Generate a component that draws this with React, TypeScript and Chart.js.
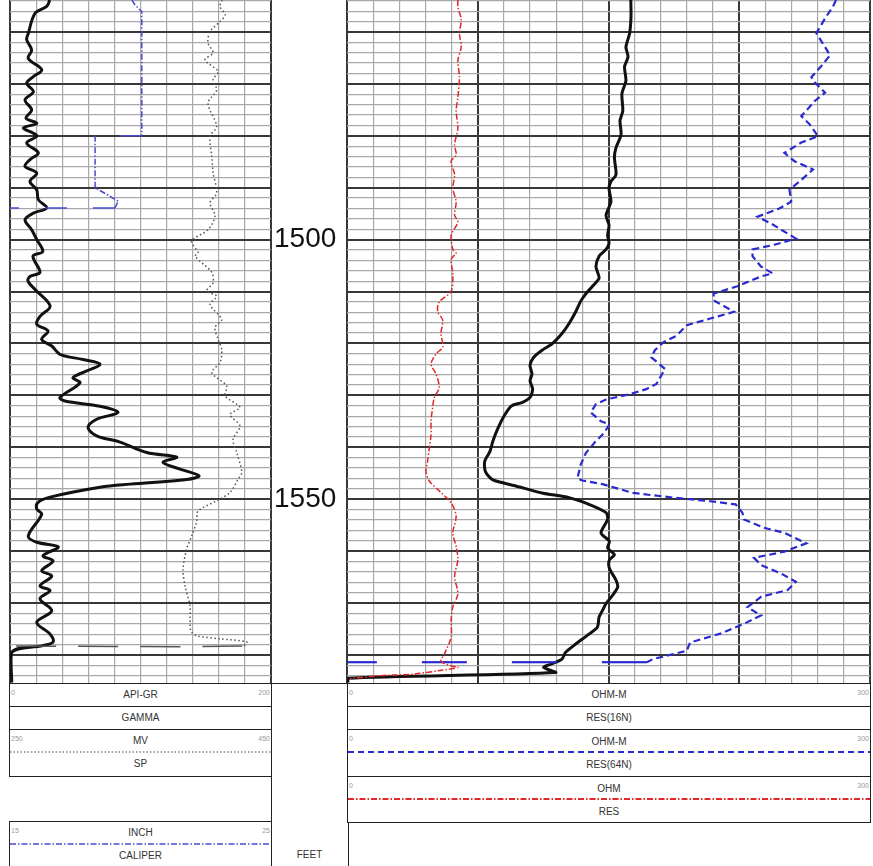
import React, { useEffect, useRef } from 'react';
import { Chart, registerables } from 'chart.js';

Chart.register(...registerables);

// ---------- depth / scale settings ----------
const DEPTH_TOP = 1453.85;
const DEPTH_BOTTOM = 1585.6;
const depthLabels = [1500, 1550];
const grRange = [0, 200];
const spRange = [250, 450];
const calRange = [15, 25];
const resRange = [0, 300];

// ---------- curves: [depth (ft), value] ----------
const GR: [number, number][] = [
  [1453.85, 30.5], [1455.1, 28.1], [1456.4, 19.2], [1460.3, 14.0], [1461.5, 12.8], [1463.5, 16.6],
  [1465.1, 14.0], [1467.3, 24.3], [1468.6, 17.9], [1469.9, 12.8], [1471.5, 17.9], [1473.1, 11.5],
  [1475.0, 16.6], [1476.6, 12.3], [1477.6, 20.5], [1478.5, 10.2], [1479.5, 17.9], [1480.1, 20.5],
  [1481.4, 12.8], [1483.3, 21.7], [1484.6, 15.3], [1485.9, 11.5], [1487.2, 20.5], [1488.8, 15.3],
  [1490.4, 20.5], [1492.3, 21.7], [1493.9, 28.1], [1494.9, 17.9], [1496.2, 11.5], [1498.1, 16.6],
  [1500.0, 20.5], [1502.3, 25.1], [1503.2, 17.6], [1506.3, 23.0], [1507.1, 15.3], [1508.0, 13.8],
  [1509.6, 19.2], [1512.8, 30.7], [1514.8, 23.0], [1516.3, 20.5], [1517.6, 29.1], [1519.2, 24.3],
  [1520.5, 32.0], [1522.1, 38.3], [1523.1, 55.9], [1524.0, 69.0], [1525.3, 58.8], [1526.6, 48.3],
  [1527.6, 53.6], [1530.4, 38.3], [1531.1, 42.1], [1532.1, 69.0], [1533.3, 82.8], [1534.6, 66.4],
  [1536.2, 59.8], [1537.8, 66.4], [1539.0, 84.3], [1541.0, 104.8], [1541.9, 127.7], [1542.9, 117.2],
  [1544.2, 130.3], [1545.5, 144.8], [1546.2, 135.4], [1547.1, 92.0], [1547.7, 69.0], [1549.6, 30.7],
  [1550.6, 21.5], [1551.9, 20.5], [1552.9, 24.3], [1557.1, 14.0], [1558.3, 20.5], [1559.2, 37.0],
  [1560.9, 25.3], [1561.9, 33.0], [1563.8, 24.3], [1564.8, 32.0], [1566.7, 23.0], [1567.6, 30.7],
  [1569.2, 23.0], [1571.5, 32.0], [1573.7, 20.5], [1576.0, 30.7], [1577.5, 33.0], [1578.2, 25.3],
  [1579.5, 1.3], [1585.3, 1.3],
];

const SP: [number, number][] = [
  [1453.85, 412.5], [1455.1, 410.9], [1456.7, 414.8], [1458.0, 410.9], [1459.9, 403.3], [1462.1, 401.7],
  [1464.0, 405.6], [1465.4, 399.4], [1467.6, 409.4], [1469.2, 405.6], [1471.2, 408.4], [1473.7, 401.7],
  [1478.2, 408.4], [1480.1, 403.3], [1484.0, 404.6], [1487.1, 405.6], [1491.0, 408.4], [1492.9, 403.3],
  [1495.5, 407.1], [1498.1, 401.7], [1500.3, 389.2], [1502.5, 394.1], [1503.2, 391.8], [1506.3, 404.6],
  [1508.3, 405.6], [1509.9, 400.7], [1510.9, 408.4], [1512.5, 403.3], [1515.4, 412.2], [1516.9, 407.1],
  [1519.2, 409.4], [1521.2, 412.2], [1523.7, 410.9], [1525.6, 404.6], [1528.2, 416.1], [1530.1, 414.8],
  [1532.3, 426.2], [1533.7, 418.6], [1535.9, 426.2], [1538.5, 420.9], [1541.0, 423.7], [1544.8, 427.6],
  [1546.2, 424.7], [1548.7, 418.6], [1550.3, 408.4], [1552.3, 394.1], [1554.2, 393.1], [1557.1, 389.2],
  [1559.6, 385.4], [1563.5, 382.6], [1566.7, 384.1], [1570.5, 387.9], [1575.3, 388.5], [1576.3, 393.1],
  [1576.9, 410.9], [1577.5, 431.4], [1578.3, 428.0], [1578.3, 250.0],
];

const CALIPER: [number, number][] = [
  [1453.85, 19.67], [1454.8, 19.79], [1456.1, 20.05], [1480.0, 20.05], [1480.0, 18.26],
  [1490.0, 18.26], [1492.6, 19.15], [1493.9, 19.02], [1493.9, 15.0],
];

const RES16N: [number, number][] = [
  [1453.85, 162.8], [1457.1, 162.9], [1460.3, 162.1], [1462.9, 160.0], [1464.8, 161.2], [1466.7, 159.2],
  [1469.4, 160.0], [1471.9, 157.7], [1475.2, 158.2], [1477.1, 156.6], [1479.8, 157.2], [1482.3, 154.3],
  [1484.2, 153.4], [1487.5, 154.3], [1488.8, 151.4], [1490.1, 150.3], [1492.7, 151.4], [1495.3, 148.6],
  [1497.2, 150.3], [1499.2, 149.5], [1500.7, 150.3], [1501.9, 148.6], [1503.2, 144.6], [1505.2, 142.8],
  [1507.4, 144.6], [1509.0, 140.8], [1510.4, 137.1], [1511.9, 134.0], [1513.9, 131.2], [1516.2, 127.3],
  [1518.1, 123.3], [1520.1, 117.6], [1521.3, 111.9], [1522.7, 107.0], [1524.2, 105.0], [1525.9, 106.1],
  [1527.2, 105.0], [1528.8, 106.5], [1530.4, 105.0], [1531.4, 100.3], [1532.0, 94.5], [1533.7, 90.6],
  [1536.3, 86.6], [1538.8, 83.7], [1540.8, 82.0], [1542.7, 79.0], [1544.7, 79.4], [1546.3, 83.7],
  [1547.4, 96.4], [1548.8, 111.9], [1549.7, 127.3], [1551.0, 138.8], [1552.6, 148.6], [1553.9, 149.5],
  [1556.5, 145.7], [1558.1, 150.5], [1559.4, 149.5], [1560.7, 153.4], [1561.7, 150.5], [1563.3, 150.5],
  [1565.6, 154.3], [1566.9, 155.3], [1568.5, 152.4], [1570.1, 148.6], [1571.4, 146.6], [1572.7, 144.6],
  [1574.6, 143.7], [1576.0, 138.8], [1577.9, 131.2], [1579.5, 125.4], [1580.8, 123.3], [1581.7, 117.6],
  [1582.4, 112.8], [1583.4, 119.6], [1584.5, 0.6], [1585.3, 0.6],
];

const RES64N: [number, number][] = [
  [1453.85, 280.5], [1455.1, 278.8], [1457.4, 274.2], [1459.7, 270.2], [1460.3, 269.3], [1462.9, 274.2],
  [1464.5, 277.1], [1466.5, 272.2], [1468.7, 266.4], [1469.7, 268.3], [1471.7, 274.2], [1473.3, 268.3],
  [1475.2, 263.4], [1476.2, 260.6], [1477.8, 265.4], [1480.1, 270.2], [1481.3, 260.6], [1483.3, 250.9],
  [1484.9, 256.7], [1486.5, 267.3], [1488.8, 259.6], [1490.4, 253.8], [1492.7, 254.8], [1494.0, 248.0],
  [1495.6, 235.5], [1496.9, 243.2], [1499.8, 257.5], [1501.0, 245.1], [1501.9, 232.6], [1503.2, 232.6],
  [1505.2, 237.5], [1506.5, 244.2], [1507.1, 237.5], [1509.0, 223.9], [1510.4, 210.3], [1511.7, 210.3],
  [1513.9, 222.0], [1515.2, 208.4], [1516.5, 194.9], [1518.5, 189.1], [1519.8, 181.4], [1521.3, 176.6],
  [1522.7, 174.6], [1524.9, 182.4], [1527.8, 177.5], [1528.8, 171.7], [1529.8, 162.1], [1530.8, 148.6],
  [1531.7, 142.8], [1533.3, 139.8], [1535.0, 145.7], [1535.6, 150.5], [1537.2, 147.6], [1538.8, 142.8],
  [1541.1, 137.0], [1543.4, 134.0], [1546.0, 132.2], [1546.4, 135.0], [1547.1, 146.6], [1548.8, 164.0],
  [1549.7, 187.2], [1550.4, 208.4], [1551.0, 222.9], [1552.6, 226.8], [1553.9, 227.7], [1555.5, 239.2],
  [1556.5, 250.9], [1558.5, 263.4], [1560.1, 250.9], [1561.3, 233.5], [1562.7, 237.5], [1564.3, 248.9],
  [1565.9, 257.5], [1567.5, 252.8], [1568.8, 237.5], [1570.8, 229.7], [1572.4, 237.5], [1574.0, 227.7],
  [1575.9, 214.2], [1577.6, 196.8], [1579.2, 194.9], [1580.8, 175.5], [1581.4, 172.0], [1581.4, 0.5],
];

const RES: [number, number][] = [
  [1453.85, 63.6], [1455.1, 63.6], [1457.7, 65.5], [1460.3, 64.5], [1462.9, 65.5], [1465.5, 63.6],
  [1468.7, 64.5], [1472.6, 63.6], [1475.2, 62.6], [1478.5, 63.6], [1481.7, 61.7], [1483.7, 62.6],
  [1484.9, 59.7], [1487.5, 61.7], [1490.1, 60.7], [1492.7, 62.6], [1495.3, 61.7], [1496.6, 63.6],
  [1499.2, 59.7], [1501.9, 60.7], [1502.6, 62.6], [1503.8, 59.7], [1506.5, 60.7], [1510.0, 59.7],
  [1512.0, 52.9], [1513.9, 52.0], [1515.5, 54.9], [1518.1, 53.9], [1520.7, 54.9], [1522.0, 51.1],
  [1524.0, 48.2], [1525.9, 51.1], [1528.5, 52.9], [1530.4, 50.1], [1532.4, 49.1], [1535.0, 48.2],
  [1537.6, 48.2], [1540.2, 47.2], [1542.7, 46.2], [1544.7, 45.3], [1546.5, 47.2], [1548.4, 52.9],
  [1550.7, 59.7], [1553.3, 62.6], [1556.5, 60.7], [1559.1, 62.6], [1561.7, 63.6], [1564.9, 61.7],
  [1568.2, 63.6], [1570.8, 60.7], [1573.3, 59.7], [1576.6, 59.7], [1579.8, 55.9], [1581.2, 53.9],
  [1582.1, 59.7], [1582.4, 63.6], [1583.0, 53.3], [1583.7, 37.9], [1584.0, 18.9], [1584.6, 1.7],
];

// ---------- styling ----------
const FONT = '"Liberation Sans", Arial, Helvetica, sans-serif';
const BLACK = '#111111';
const SP_COLOR = '#555555';
const CAL_COLOR = '#4a4ad0';
const BLUE = '#2a2ad0';
const RED = '#e02828';
const THIN_GRID = '#a8a8a8';
const THICK_GRID = '#383838';

const toXY = (arr: [number, number][]) => arr.map(([d, v]) => ({ x: v, y: d }));

const flatDash = (dash: number[]) => (ctx: any) =>
  Math.abs(ctx.p0.parsed.y - ctx.p1.parsed.y) < 0.001 ? dash : undefined;

const depthGridTicks = () => {
  const t: { value: number }[] = [];
  for (let d = 1454; d <= 1584; d += 2) t.push({ value: d });
  return t;
};

const noPadding = (s: any) => {
  s.paddingTop = 0;
  s.paddingBottom = 0;
  s.paddingLeft = 0;
  s.paddingRight = 0;
};

const depthAxis = (): any => ({
  type: 'linear',
  reverse: true,
  min: DEPTH_TOP,
  max: DEPTH_BOTTOM,
  position: 'left',
  afterBuildTicks: (s: any) => { s.ticks = depthGridTicks(); },
  afterFit: noPadding,
  ticks: { display: false },
  grid: {
    drawTicks: false,
    color: (c: any) => (c.tick && c.tick.value % 10 === 0 ? THICK_GRID : THIN_GRID),
    lineWidth: (c: any) => (c.tick && c.tick.value % 10 === 0 ? 2 : 1.2),
  },
  border: { display: false },
});

const baseOptions = (scales: any, padding: any): any => ({
  animation: false,
  responsive: false,
  maintainAspectRatio: false,
  events: [],
  layout: { padding, autoPadding: false },
  plugins: { legend: { display: false }, tooltip: { enabled: false }, title: { display: false } },
  scales,
});

function LeftTrack() {
  const ref = useRef<HTMLCanvasElement | null>(null);
  useEffect(() => {
    if (!ref.current) return;
    const chart = new Chart(ref.current, {
      type: 'scatter',
      data: {
        datasets: [
          {
            label: 'CALIPER', data: toXY(CALIPER), xAxisID: 'xcal', yAxisID: 'y', showLine: true,
            borderColor: CAL_COLOR, borderWidth: 1.5, borderDash: [6, 2, 1.5, 2], pointRadius: 0, tension: 0,
            segment: { borderDash: flatDash([22, 26]) },
          } as any,
          {
            label: 'SP', data: toXY(SP), xAxisID: 'xsp', yAxisID: 'y', showLine: true,
            borderColor: SP_COLOR, borderWidth: 1.5, borderDash: [1.5, 2.5], pointRadius: 0, tension: 0.3,
            segment: { borderDash: flatDash([40, 22]) },
          } as any,
          {
            label: 'GAMMA', data: toXY(GR), xAxisID: 'x', yAxisID: 'y', showLine: true,
            borderColor: BLACK, borderWidth: 3, pointRadius: 0, tension: 0.35,
          } as any,
        ],
      },
      options: baseOptions({
        x: {
          type: 'linear', min: grRange[0], max: grRange[1], position: 'bottom',
          ticks: { display: false, stepSize: 20 },
          afterFit: noPadding,
          grid: {
            drawTicks: false,
            color: (c: any) => (c.tick && (c.tick.value === grRange[0] || c.tick.value === grRange[1]) ? THICK_GRID : THIN_GRID),
            lineWidth: (c: any) => (c.tick && (c.tick.value === grRange[0] || c.tick.value === grRange[1]) ? 2 : 1.2),
          },
          border: { display: false },
        },
        xsp: { type: 'linear', min: spRange[0], max: spRange[1], display: false },
        xcal: { type: 'linear', min: calRange[0], max: calRange[1], display: false },
        y: depthAxis(),
        ydepth: {
          type: 'linear', reverse: true, min: DEPTH_TOP, max: DEPTH_BOTTOM, position: 'right',
          afterBuildTicks: (s: any) => { s.ticks = depthLabels.map((v) => ({ value: v })); },
          afterFit: (s: any) => { s.width = 77; noPadding(s); },
          ticks: {
            padding: 3, color: '#111', font: { size: 28, family: FONT },
            callback: (v: any) => String(v),
          },
          grid: { display: false, drawTicks: false },
          border: { display: false },
        },
      }, { left: 2, right: 0, top: 0, bottom: 6 }),
    });
    return () => chart.destroy();
  }, []);
  return (
    <canvas ref={ref} width={340} height={690}
      style={{ position: 'absolute', left: 8, top: 0, width: 340, height: 690 }} />
  );
}

function RightTrack() {
  const ref = useRef<HTMLCanvasElement | null>(null);
  useEffect(() => {
    if (!ref.current) return;
    const chart = new Chart(ref.current, {
      type: 'scatter',
      data: {
        datasets: [
          {
            label: 'RES', data: toXY(RES), xAxisID: 'x', yAxisID: 'y', showLine: true,
            borderColor: RED, borderWidth: 1.5, borderDash: [6, 2, 1.5, 2], pointRadius: 0, tension: 0.3,
          } as any,
          {
            label: 'RES(64N)', data: toXY(RES64N), xAxisID: 'x', yAxisID: 'y', showLine: true,
            borderColor: BLUE, borderWidth: 2.2, borderDash: [7, 4], pointRadius: 0, tension: 0,
            segment: { borderDash: flatDash([45, 45]) },
          } as any,
          {
            label: 'RES(16N)', data: toXY(RES16N), xAxisID: 'x', yAxisID: 'y', showLine: true,
            borderColor: BLACK, borderWidth: 3, pointRadius: 0, tension: 0.25,
          } as any,
        ],
      },
      options: baseOptions({
        x: {
          type: 'linear', min: resRange[0], max: resRange[1], position: 'bottom',
          ticks: { display: false, stepSize: 15 },
          afterFit: noPadding,
          grid: {
            drawTicks: false,
            color: (c: any) => (c.tick && c.tick.value % 75 === 0 ? THICK_GRID : THIN_GRID),
            lineWidth: (c: any) => (c.tick && c.tick.value % 75 === 0 ? 2 : 1.2),
          },
          border: { display: false },
        },
        y: depthAxis(),
      }, { left: 2, right: 3, top: 0, bottom: 6 }),
    });
    return () => chart.destroy();
  }, []);
  return (
    <canvas ref={ref} width={528} height={690}
      style={{ position: 'absolute', left: 345, top: 0, width: 528, height: 690 }} />
  );
}

const boxStyle = (left: number, top: number, width: number, height: number): React.CSSProperties => ({
  position: 'absolute', left, top, width, height, border: '1.5px solid #222',
  boxSizing: 'border-box', background: '#fff',
});

const Center = ({ top, children }: { top: number; children: React.ReactNode }) => (
  <div style={{ position: 'absolute', left: 0, right: 0, top, textAlign: 'center', fontSize: 10, color: '#333', lineHeight: '12px' }}>
    {children}
  </div>
);

const Small = ({ top, side, children }: { top: number; side: 'left' | 'right'; children: React.ReactNode }) => (
  <div style={{ position: 'absolute', top, [side]: 1, fontSize: 7, color: '#999', lineHeight: '9px' } as any}>
    {children}
  </div>
);

const LegendLine = ({ top, color, dash, width }: { top: number; color: string; dash: string; width: number }) => (
  <svg style={{ position: 'absolute', left: 0, top: top - 2 }} width="100%" height={4}>
    <line x1={0} y1={2} x2="100%" y2={2} stroke={color} strokeWidth={width} strokeDasharray={dash} />
  </svg>
);

export default function App() {
  return (
    <div style={{ position: 'absolute', left: 0, top: 0, width: 873, height: 866, overflow: 'hidden', background: '#fff', fontFamily: FONT }}>
      <LeftTrack />
      <RightTrack />

      {/* left header */}
      <div style={boxStyle(9, 683, 263, 24)}>
        <Small top={4} side="left">0</Small>
        <Center top={5}>API-GR</Center>
        <Small top={4} side="right">200</Small>
      </div>
      <div style={boxStyle(9, 706, 263, 24)}>
        <Center top={5}>GAMMA</Center>
      </div>
      <div style={boxStyle(9, 729, 263, 48)}>
        <Small top={4} side="left">250</Small>
        <Center top={5}>MV</Center>
        <Small top={4} side="right">450</Small>
        <LegendLine top={22} color="#444" dash="1.5 2" width={1.2} />
        <Center top={28}>SP</Center>
      </div>
      <div style={boxStyle(9, 821, 263, 60)}>
        <Small top={4} side="left">15</Small>
        <Center top={5}>INCH</Center>
        <Small top={4} side="right">25</Small>
        <LegendLine top={22} color={CAL_COLOR} dash="6 2 1.5 2" width={1.5} />
        <Center top={28}>CALIPER</Center>
      </div>

      {/* depth header */}
      <div style={boxStyle(270.5, 683, 78, 200)}>
        <Center top={165}>FEET</Center>
      </div>

      {/* right header */}
      <div style={boxStyle(347, 683, 524, 24)}>
        <Small top={4} side="left">0</Small>
        <Center top={5}>OHM-M</Center>
        <Small top={4} side="right">300</Small>
      </div>
      <div style={boxStyle(347, 706, 524, 24)}>
        <Center top={5}>RES(16N)</Center>
      </div>
      <div style={boxStyle(347, 729, 524, 48)}>
        <Small top={4} side="left">0</Small>
        <Center top={6}>OHM-M</Center>
        <Small top={4} side="right">300</Small>
        <LegendLine top={22} color={BLUE} dash="6 4" width={2} />
        <Center top={29}>RES(64N)</Center>
      </div>
      <div style={boxStyle(347, 776, 524, 47)}>
        <Small top={4} side="left">0</Small>
        <Center top={6}>OHM</Center>
        <Small top={4} side="right">300</Small>
        <LegendLine top={22} color={RED} dash="6 2 1.5 2" width={1.8} />
        <Center top={29}>RES</Center>
      </div>
    </div>
  );
}
